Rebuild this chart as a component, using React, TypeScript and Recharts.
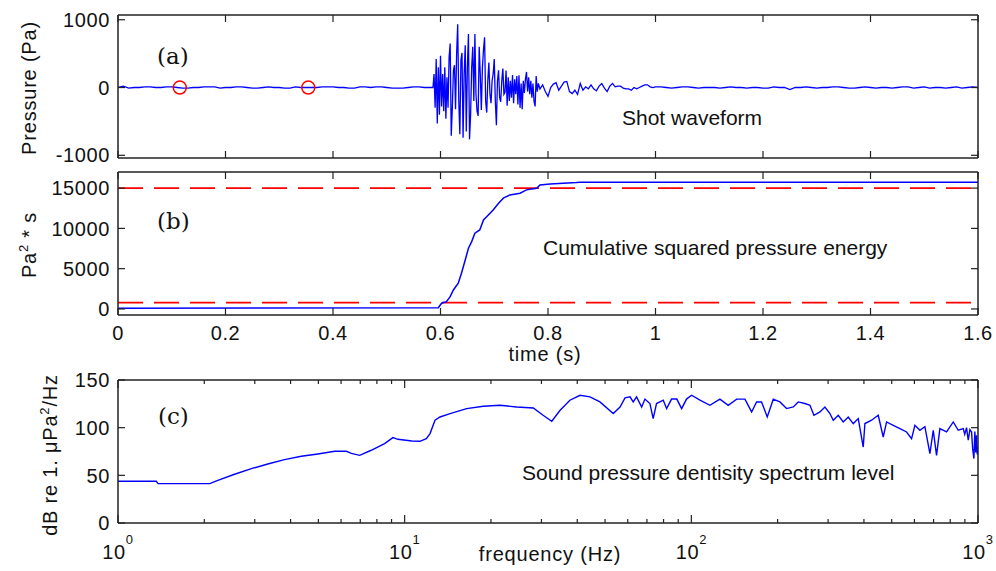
import React from 'react';
import { LineChart, Line, XAxis, YAxis, ReferenceLine, ReferenceDot } from 'recharts';

const W = 996;
const H = 571;
const LEFT = 118;
const RIGHT = 978;
const SANS = '"Liberation Sans", Arial, sans-serif';
const SERIF = '"DejaVu Serif", serif';
const INK = '#111';
const FRAME = '#222';
const BLUE = '#0000ff';
const RED = '#ff0000';
const TICK = 7;
const MINOR = 4;

const PRE_T0 = 0;
const PRE_DT = 0.01;
const preBurst = [
  0, 20, -10, 0, 0, 10, 10, 0, 0, 10, 10, 0, -10, -10, 0, 0, 10, 10, 10, -10,
  0, 0, 10, 10, 0, -10, -10, 0, 10, 0, 0, -10, -10, 10, 0, 0, 0, 0, 10, 10,
  10, 0, 0, -10, -10, 10, 10, 0, 10, 10, 0, -10, -10, -10, 0, 10, 10, 0, 0,
];
const BURST_T0 = 0.586;
const BURST_DT = 0.002;
const burst = [
  0, 200, -300, 420, -530, 300, -400, 470, -280, 200,
  -350, 300, -460, 150, -300, 450, 650, -710, -300, 250,
  330, -320, 500, 935, -200, -690, 400, 510, -740, 200,
  625, -650, 300, 790, -765, -400, 300, 600, -200, 790,
  -100, -350, -420, 600, 200, -330, 300, 560, 740, -200,
  -370, 100, 370, -100, -230, 100, 200, 420, -200, -555,
  100, 255, -150, -210, 100, 280, -100, -70, 250, -270,
  150, -200, 100, -150, 185, -230, 120, -100, 170, -250,
  180, -300, 60, -320, 100, -80, 120, 230, -60, 150,
  -100, 100, -150, 60, -200, -280, 170, -60, 60,
];
const TAIL_T0 = 0.785;
const TAIL_DT = 0.005;
const tail = [
  -20, 40, -60, -130, 0, 50, 70, -40, 20, 80, 90, -60, -90, -40, -100,
  60, -40, 10, -20, 40, -20, -50, 20, 60, -10, -60, 20, 60, 10, 20,
  20, -10, -20, -20, -40, 0, -20, 0, 20, 40, 40, 10, 0, 10, 10,
];
const LATE_T0 = 1.01;
const LATE_DT = 0.01;
const late = [
  10, 0, -10, 0, 10, 10, 0, -10, 0, 0, 0, -10, 0, 10, 0, 0, -10, 0, 0, -10,
  -10, 10, 0, 0, -30, 0, 0, 10, 0, -10, 0, 0, 10, 10, 0, -10, -10, 0, 10, 0,
  -10, 0, 0, -10, 0, 10, 10, -10, 0, 10, -10, 0, 0, -10, 0, 10, -10, 0, 10, 0,
];
const markerTimes = [0.115, 0.354];

const timeTicks = [0, 0.2, 0.4, 0.6, 0.8, 1, 1.2, 1.4, 1.6];
const pressureTicks = [-1000, 0, 1000];

// (b) cumulative squared pressure
const cumTime = [
  0, 0.596, 0.602, 0.611, 0.618, 0.624, 0.633, 0.639, 0.646, 0.652, 0.658, 0.664,
  0.673, 0.68, 0.689, 0.698, 0.708, 0.717, 0.729, 0.748, 0.76, 0.779, 0.785, 0.804,
  0.853, 0.86, 1.6,
];
const cumEnergy = [
  80, 150, 708, 907, 1528, 2360, 3192, 4434, 6086, 7539, 8359, 9402,
  9812, 11054, 11675, 12296, 13128, 13749, 14159, 14370, 14780, 14991, 15401, 15525,
  15686, 15736, 15740,
];
const energyTicks = [0, 5000, 10000, 15000];
const energyLimits = [790, 15000];

// (c) spectrum level
const freq = [
  1, 1.36, 1.38, 2.09, 2.23, 2.55, 2.92, 3.33, 3.81, 4.36, 4.98, 5.7, 6.26, 6.52, 6.97,
  7.64, 8.51, 9.1, 9.47, 10.6, 11.3, 11.9, 12.26, 12.76, 13.28, 14.4, 16.45, 18.8, 21.5,
  24.6, 28.1, 30.4, 32.6, 34.8, 37.7, 40.9, 44.3, 48, 53.4, 56.4, 58.7, 61.1, 62.7, 64.4,
  67.1, 68.9, 71.7, 73.6, 75.6, 79.8, 82, 85.3, 89, 92.5, 96.2, 100.2, 107.2, 116.1,
  125.8, 134.5, 143.9, 153.8, 162.3, 168.9, 175.8, 184, 193.1, 203.7, 214.9, 226.8, 236,
  249, 259.3, 267.7, 281, 292.4, 304.4, 312.7, 325.5, 338.8, 352.7, 367.1, 382.2, 397.8,
  403.2, 425.5, 448.7, 467.1, 479.8, 506.2, 534, 563.4, 586.5, 602.4, 627, 652.7, 679.6,
  698, 716.8, 736.3, 776.9, 819.8, 853.3, 888.2, 899, 912, 924.6, 937, 949.7, 958, 967.6,
  975, 982, 988.5, 994, 1000,
];
const levelDb = [
  43.8, 43.8, 41.3, 41.3, 44.8, 51.1, 57, 61.9, 66.5, 70, 72.4, 75.2, 75.2, 73.1, 71,
  76.3, 83.3, 89.6, 87.8, 86, 85.7, 88.5, 93.8, 107.8, 111.2, 114.8, 120, 122.5, 123.5,
  121.7, 120.7, 113, 106.7, 118, 128.8, 134, 132.3, 127, 114.8, 121.7, 131.2, 132.3, 127, 132.3,
  121.7, 130, 125.3, 109.5, 125.3, 128.8, 120, 130, 130, 120, 130, 134, 128.8, 123.5,
  129.9, 123.5, 129.9, 129.9, 116.5, 127, 127, 111.2, 129.9, 127, 120, 121.7, 127,
  125.3, 123.5, 113, 116.5, 121.7, 114.8, 107.8, 113, 106, 111.2, 104.3, 109.5, 79.7,
  104.3, 107.8, 113, 90.2, 106, 102.5, 99, 95.5, 88.5, 102.5, 97.3, 101, 72.8,
  97.3, 71, 99, 95.5, 106, 97.3, 99, 93, 100, 86.8, 98, 95.5, 78, 67.6,
  96, 74, 92, 72, 79.7,
];
const freqTicks = [
  1, 2, 3, 4, 5, 6, 7, 8, 9, 10, 20, 30, 40, 50, 60, 70, 80, 90,
  100, 200, 300, 400, 500, 600, 700, 800, 900, 1000,
];
const decadeExp: Record<number, string> = { 1: '0', 10: '1', 100: '2', 1000: '3' };
const levelTicks = [0, 50, 100, 150];

const piece = (t0: number, dt: number, vals: number[]) =>
  vals.map((p, i) => ({ t: +(t0 + i * dt).toFixed(4), p }));
const waveform = [
  ...piece(PRE_T0, PRE_DT, preBurst),
  ...piece(BURST_T0, BURST_DT, burst),
  ...piece(TAIL_T0, TAIL_DT, tail),
  ...piece(LATE_T0, LATE_DT, late),
];
const cumulative = cumTime.map((t, i) => ({ t, e: cumEnergy[i] }));
const spectrum = freq.map((f, i) => ({ f, db: levelDb[i] }));

const tickText: React.CSSProperties = { fontFamily: SANS, fontSize: 20, fill: INK, letterSpacing: 0.6 };
const titleText: React.CSSProperties = { fontFamily: SANS, fontSize: 20, fill: INK, letterSpacing: 0.8 };
const noteText: React.CSSProperties = { fontFamily: SANS, fontSize: 21, fill: INK };
const panelText: React.CSSProperties = { fontFamily: SERIF, fontSize: 23, fill: INK };
const axisLine = { stroke: FRAME, strokeWidth: 1.5 };

type Side = 'bottom' | 'top' | 'left' | 'right';

function makeTick(side: Side, label?: (v: number, x: number, y: number) => React.ReactNode, len?: (v: number) => number) {
  return (props: any) => {
    const { x, y, payload } = props;
    const v = payload.value as number;
    const l = len ? len(v) : TICK;
    let seg = { x1: x, y1: y, x2: x, y2: y };
    if (side === 'bottom') seg = { x1: x, y1: y, x2: x, y2: y - l };
    if (side === 'top') seg = { x1: x, y1: y, x2: x, y2: y + l };
    if (side === 'left') seg = { x1: x, y1: y, x2: x + l, y2: y };
    if (side === 'right') seg = { x1: x, y1: y, x2: x - l, y2: y };
    return (
      <g>
        <line {...seg} stroke={FRAME} strokeWidth={1.2} />
        {label ? label(v, x, y) : null}
      </g>
    );
  };
}

const bottomLabel = (v: number, x: number, y: number) => (
  <text x={x} y={y + 25} textAnchor="middle" style={tickText}>{String(v)}</text>
);
const leftLabel = (v: number, x: number, y: number) => (
  <text x={x - 8} y={y} dy="0.36em" textAnchor="end" style={tickText}>{String(v)}</text>
);
const decadeLabel = (v: number, x: number, y: number) =>
  decadeExp[v] !== undefined ? (
    <text x={x} y={y + 36} textAnchor="middle" style={tickText}>
      10<tspan dy={-15} fontSize={13}>{decadeExp[v]}</tspan>
    </text>
  ) : null;
const decadeLen = (v: number) => (decadeExp[v] !== undefined ? TICK + 1 : MINOR);

// axes get a 1px band (a zero-sized axis is not drawn), so the margins give that pixel back
function boxAxes(o: {
  xKey: string;
  xDomain: [number, number];
  xTicks: number[];
  xScale?: 'log' | 'linear';
  yDomain: [number, number];
  yTicks: number[];
  xLabel?: (v: number, x: number, y: number) => React.ReactNode;
  xLen?: (v: number) => number;
}) {
  const xCommon = {
    dataKey: o.xKey,
    type: 'number' as const,
    scale: o.xScale ?? 'linear',
    domain: o.xDomain,
    ticks: o.xTicks,
    interval: 0 as const,
    tickSize: 0,
    tickMargin: 0,
    tickLine: false,
    axisLine,
    allowDataOverflow: true,
    height: 1,
  };
  const yCommon = {
    type: 'number' as const,
    domain: o.yDomain,
    ticks: o.yTicks,
    interval: 0 as const,
    tickSize: 0,
    tickMargin: 0,
    tickLine: false,
    axisLine,
    allowDataOverflow: true,
    width: 1,
  };
  return [
    <XAxis key="xb" xAxisId={0} orientation="bottom" {...xCommon} tick={makeTick('bottom', o.xLabel, o.xLen)} />,
    <XAxis key="xt" xAxisId="top" orientation="top" {...xCommon} tick={makeTick('top', undefined, o.xLen)} />,
    <YAxis key="yl" yAxisId={0} orientation="left" {...yCommon} tick={makeTick('left', leftLabel)} />,
    <YAxis key="yr" yAxisId="right" orientation="right" {...yCommon} tick={makeTick('right')} />,
  ];
}

const frame = (top: number, bottom: number) => ({
  top: top - 1,
  bottom: H - bottom - 1,
  left: LEFT - 1,
  right: W - RIGHT - 1,
});
const layer: React.CSSProperties = { position: 'absolute', left: 0, top: 0 };

export default function App() {
  return (
    <div style={{ position: 'absolute', left: 0, top: 0, width: W, height: H, background: '#fff', overflow: 'hidden' }}>
      <div style={layer}>
        <LineChart width={W} height={H} data={waveform} margin={frame(15, 158)}>
          {boxAxes({ xKey: 't', xDomain: [0, 1.6], xTicks: timeTicks, yDomain: [-1040, 1070], yTicks: pressureTicks })}
          <Line type="linear" dataKey="p" stroke={BLUE} strokeWidth={1.3} dot={false} isAnimationActive={false} />
          {markerTimes.map((t) => (
            <ReferenceDot key={t} x={t} y={0} r={6.5} fill="none" stroke={RED} strokeWidth={1.5} />
          ))}
        </LineChart>
      </div>
      <div style={layer}>
        <LineChart width={W} height={H} data={cumulative} margin={frame(172, 315)}>
          {boxAxes({ xKey: 't', xDomain: [0, 1.6], xTicks: timeTicks, yDomain: [-750, 17000], yTicks: energyTicks, xLabel: bottomLabel })}
          {energyLimits.map((e) => (
            <ReferenceLine key={e} y={e} stroke={RED} strokeWidth={1.6} strokeDasharray="25 11" />
          ))}
          <Line type="linear" dataKey="e" stroke={BLUE} strokeWidth={1.5} dot={false} isAnimationActive={false} />
        </LineChart>
      </div>
      <div style={layer}>
        <LineChart width={W} height={H} data={spectrum} margin={frame(380, 523)}>
          {boxAxes({ xKey: 'f', xScale: 'log', xDomain: [1, 1000], xTicks: freqTicks, yDomain: [0, 150], yTicks: levelTicks, xLabel: decadeLabel, xLen: decadeLen })}
          <Line type="linear" dataKey="db" stroke={BLUE} strokeWidth={1.4} dot={false} isAnimationActive={false} />
        </LineChart>
      </div>
      <svg width={W} height={H} style={{ ...layer, pointerEvents: 'none' }}>
        <text x={157} y={64} style={panelText}>(a)</text>
        <text x={157} y={229} style={panelText}>(b)</text>
        <text x={158} y={424} style={panelText}>(c)</text>

        <text x={622} y={125} style={noteText}>Shot waveform</text>
        <text x={543} y={255} style={noteText}>Cumulative squared pressure energy</text>
        <text x={522} y={480} style={noteText}>Sound pressure dentisity spectrum level</text>

        <text x={545} y={361} textAnchor="middle" style={titleText}>time (s)</text>
        <text x={550} y={561} textAnchor="middle" style={titleText}>frequency (Hz)</text>
        <text x={36} y={88} textAnchor="middle" transform="rotate(-90 36 88)" style={titleText}>Pressure (Pa)</text>
        <text x={35.5} y={245} textAnchor="middle" transform="rotate(-90 35.5 245)" style={titleText}>
          Pa<tspan dy={-8} fontSize={13}>2</tspan><tspan dy={8}> * s</tspan>
        </text>
        <text x={56.5} y={455} textAnchor="middle" transform="rotate(-90 56.5 455)" style={titleText}>
          dB re 1. μPa<tspan dy={-8} fontSize={13}>2</tspan><tspan dy={8}>/Hz</tspan>
        </text>
      </svg>
    </div>
  );
}
